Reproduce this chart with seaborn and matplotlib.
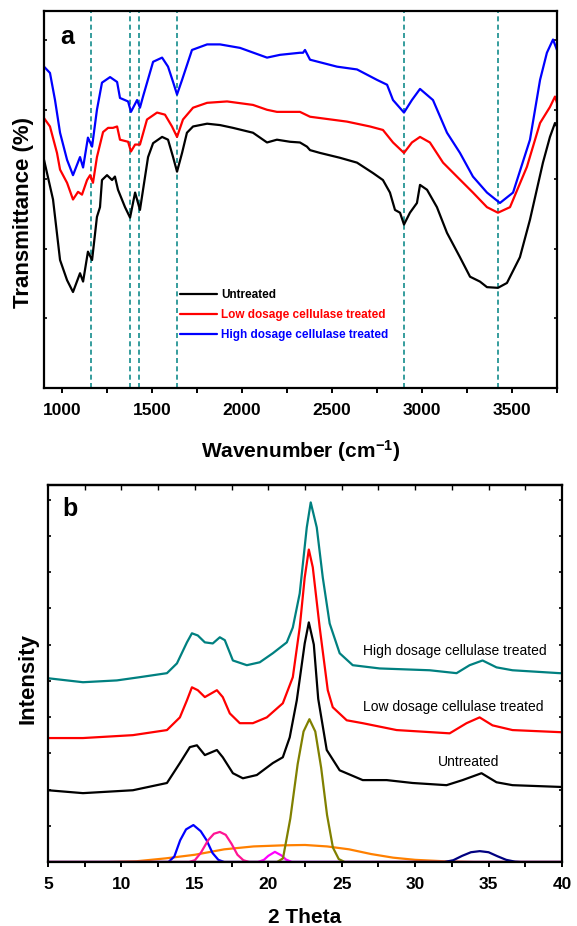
import numpy as np
import pandas as pd
import matplotlib
matplotlib.use("Agg")
import matplotlib.pyplot as plt
import seaborn as sns

# ---------------- FTIR (panel a) ----------------
ftir_untreated_x = [900, 950, 989, 1028, 1061, 1100, 1117, 1144, 1167, 1194, 1211, 1222, 1250, 1278, 1294,
                    1311, 1350, 1378, 1406, 1433, 1478, 1506, 1556, 1589, 1617, 1639, 1667, 1694, 1728,
                    1806, 1878, 1950, 2061, 2139, 2194, 2267, 2322, 2361, 2378, 2433, 2544, 2639, 2728,
                    2783, 2822, 2850, 2878, 2900, 2933, 2972, 2989, 3028, 3083, 3139, 3211, 3267, 3322,
                    3361, 3422, 3472, 3544, 3600, 3672, 3711, 3739, 3750]
ftir_untreated_y = [3.28, 2.71, 1.84, 1.55, 1.38, 1.65, 1.53, 1.96, 1.84, 2.46, 2.60, 2.99, 3.06, 2.99, 3.04,
                    2.85, 2.60, 2.45, 2.81, 2.56, 3.32, 3.52, 3.61, 3.57, 3.32, 3.11, 3.38, 3.67, 3.76,
                    3.80, 3.78, 3.74, 3.67, 3.53, 3.57, 3.54, 3.53, 3.47, 3.42, 3.38, 3.31, 3.24, 3.09,
                    2.99, 2.81, 2.56, 2.52, 2.35, 2.52, 2.66, 2.92, 2.85, 2.60, 2.23, 1.88, 1.60, 1.53,
                    1.45, 1.44, 1.51, 1.88, 2.42, 3.24, 3.61, 3.81, 3.76]

ftir_low_x = [900, 933, 972, 989, 1028, 1061, 1089, 1111, 1139, 1156, 1172, 1194, 1228, 1256, 1283, 1306,
              1322, 1367, 1383, 1406, 1433, 1472, 1528, 1572, 1611, 1639, 1672, 1728, 1806, 1917, 2061,
              2139, 2194, 2322, 2378, 2583, 2711, 2783, 2839, 2900, 2944, 2989, 3044, 3117, 3194, 3283,
              3361, 3422, 3489, 3583, 3656, 3711, 3739, 3750]
ftir_low_y = [3.88, 3.76, 3.38, 3.14, 2.95, 2.71, 2.82, 2.78, 2.99, 3.06, 2.95, 3.32, 3.68, 3.74, 3.74, 3.76,
              3.57, 3.54, 3.40, 3.50, 3.50, 3.86, 3.96, 3.93, 3.76, 3.61, 3.86, 4.03, 4.10, 4.12, 4.07,
              4.00, 3.97, 3.97, 3.90, 3.83, 3.76, 3.71, 3.53, 3.38, 3.53, 3.61, 3.53, 3.24, 3.04, 2.81,
              2.60, 2.52, 2.60, 3.18, 3.81, 4.04, 4.19, 4.10]

ftir_high_x = [900, 933, 961, 989, 1028, 1061, 1100, 1117, 1144, 1167, 1194, 1222, 1267, 1306, 1322, 1367,
               1383, 1417, 1433, 1450, 1506, 1556, 1589, 1617, 1639, 1667, 1722, 1806, 1878, 1989, 2139,
               2211, 2322, 2339, 2350, 2378, 2528, 2639, 2750, 2806, 2839, 2900, 2944, 2989, 3061, 3139,
               3211, 3283, 3361, 3433, 3506, 3600, 3656, 3694, 3728, 3750]
ftir_high_y = [4.62, 4.53, 4.14, 3.67, 3.28, 3.06, 3.32, 3.17, 3.60, 3.47, 4.00, 4.39, 4.47, 4.40, 4.17, 4.12,
               3.97, 4.14, 4.03, 4.19, 4.69, 4.75, 4.62, 4.40, 4.22, 4.43, 4.86, 4.94, 4.94, 4.89, 4.75,
               4.79, 4.82, 4.82, 4.86, 4.72, 4.62, 4.58, 4.43, 4.36, 4.14, 3.96, 4.14, 4.30, 4.14, 3.67,
               3.38, 3.04, 2.81, 2.66, 2.81, 3.57, 4.43, 4.82, 5.01, 4.86]

ftir_bands = [1160, 1375, 1430, 1640, 2900, 3420]

# ---------------- XRD (panel b) ----------------
xrd_high_x = [5, 7.38, 9.69, 11.26, 13.10, 13.78, 14.46, 14.80, 15.20, 15.68, 16.22, 16.70, 17.04, 17.59,
              18.54, 19.42, 20.31, 21.26, 21.67, 22.14, 22.62, 22.89, 23.30, 23.71, 24.18, 24.86, 25.75,
              27.59, 30.99, 32.82, 33.71, 34.59, 35.54, 36.63, 39.83, 40]
xrd_high_y = [5.07, 4.96, 5.01, 5.10, 5.21, 5.48, 6.06, 6.31, 6.25, 6.06, 6.03, 6.20, 6.12, 5.56,
              5.43, 5.51, 5.76, 6.06, 6.47, 7.41, 9.23, 9.92, 9.23, 7.85, 6.58, 5.76, 5.43,
              5.34, 5.29, 5.21, 5.43, 5.56, 5.37, 5.29, 5.21, 5.21]

xrd_low_x = [5, 7.38, 10.78, 13.10, 13.98, 14.46, 14.80, 15.20, 15.68, 16.50, 16.90, 17.38, 18.06, 18.95,
             19.90, 20.99, 21.67, 22.14, 22.48, 22.76, 23.03, 23.50, 24.05, 24.39, 25.34, 26.43, 28.74,
             32.35, 33.50, 34.39, 35.27, 36.63, 40]
xrd_low_y = [3.42, 3.42, 3.50, 3.64, 3.99, 4.46, 4.82, 4.74, 4.55, 4.74, 4.55, 4.10, 3.83, 3.83,
             3.99, 4.38, 5.10, 6.47, 7.85, 8.62, 8.13, 6.47, 4.74, 4.27, 3.91, 3.83, 3.64,
             3.55, 3.83, 3.99, 3.77, 3.64, 3.58]

xrd_untr_x = [5, 7.38, 10.78, 13.10, 13.98, 14.66, 15.14, 15.68, 16.50, 16.90, 17.59, 18.27, 19.22, 20.31,
              20.99, 21.46, 21.94, 22.48, 22.76, 23.10, 23.40, 23.98, 24.86, 26.43, 28.06, 29.83, 32.14,
              33.23, 34.52, 35.54, 36.63, 40]
xrd_untr_y = [1.98, 1.90, 1.98, 2.18, 2.73, 3.17, 3.22, 2.95, 3.09, 2.89, 2.45, 2.31, 2.40, 2.73,
              2.89, 3.44, 4.46, 6.03, 6.61, 6.00, 4.50, 3.09, 2.53, 2.26, 2.26, 2.18, 2.12,
              2.26, 2.45, 2.20, 2.12, 2.07]

# deconvoluted components
fit_blue_x = [5, 13.2, 13.6, 14.0, 14.4, 14.9, 15.4, 15.8, 16.2, 16.6, 17.0, 40]
fit_blue_y = [0, 0, 0.15, 0.6, 0.9, 1.02, 0.85, 0.6, 0.25, 0.06, 0, 0]
fit_pink_x = [5, 14.6, 15.0, 15.4, 15.9, 16.3, 16.7, 17.1, 17.5, 17.9, 18.3, 18.7, 40]
fit_pink_y = [0, 0, 0.05, 0.25, 0.6, 0.78, 0.83, 0.75, 0.5, 0.2, 0.05, 0, 0]
fit_mag_x = [5, 19.3, 19.7, 20.0, 20.45, 20.9, 21.2, 21.6, 40]
fit_mag_y = [0, 0, 0.06, 0.17, 0.28, 0.18, 0.07, 0, 0]
fit_olive_x = [5, 20.6, 21.0, 21.5, 22.0, 22.4, 22.8, 23.2, 23.6, 24.0, 24.4, 24.8, 25.2, 40]
fit_olive_y = [0, 0, 0.1, 1.2, 2.7, 3.6, 3.94, 3.6, 2.6, 1.3, 0.4, 0.08, 0, 0]
fit_orange_x = [5, 9, 11, 13, 15, 17, 19, 21, 22.5, 24, 25.5, 27, 28.5, 30, 32, 34, 40]
fit_orange_y = [0, 0, 0.02, 0.1, 0.2, 0.35, 0.43, 0.46, 0.47, 0.43, 0.35, 0.22, 0.12, 0.06, 0.02, 0, 0]
fit_navy_x = [5, 32.0, 32.6, 33.2, 33.8, 34.4, 35.0, 35.6, 36.2, 36.8, 37.2, 40]
fit_navy_y = [0, 0, 0.05, 0.17, 0.27, 0.30, 0.27, 0.16, 0.06, 0.01, 0, 0]

ftir_ticks = [1000, 1500, 2000, 2500, 3000, 3500]
xrd_ticks = [5, 10, 15, 20, 25, 30, 35, 40]

sns.set_theme(style="ticks")
plt.rcParams['font.family'] = ['Liberation Sans', 'DejaVu Sans']
plt.rcParams['mathtext.fontset'] = 'custom'
plt.rcParams['mathtext.rm'] = 'Liberation Sans:bold'
plt.rcParams['mathtext.default'] = 'rm'
plt.rcParams['axes.linewidth'] = 1.6
plt.rcParams['text.color'] = 'black'
plt.rcParams['axes.labelcolor'] = 'black'
plt.rcParams['xtick.color'] = 'black'
plt.rcParams['ytick.color'] = 'black'
plt.rcParams['axes.edgecolor'] = 'black'

fig = plt.figure(figsize=(5.77, 9.26), dpi=100)
ax1 = fig.add_axes([0.0763, 0.581, 0.889, 0.4071])
ax2 = fig.add_axes([0.0832, 0.0691, 0.8908, 0.4071])

lw = 1.6
# panel a
for xs, ys, col, lab in [(ftir_untreated_x, ftir_untreated_y, 'black', 'Untreated'),
                         (ftir_low_x, ftir_low_y, '#FF0000', 'Low dosage cellulase treated'),
                         (ftir_high_x, ftir_high_y, '#0000FF', 'High dosage cellulase treated')]:
    df = pd.DataFrame({'x': xs, 'y': ys})
    sns.lineplot(data=df, x='x', y='y', ax=ax1, color=col, lw=lw, sort=False, label=lab)
for b in ftir_bands:
    ax1.axvline(b, color='#138C8C', lw=1.2, ls=(0, (3, 2)), zorder=0)

ax1.set_xlim(900, 3750)
ax1.set_ylim(0, 5.42)
ax1.set_xticks(ftir_ticks)
ax1.set_xticklabels([str(t) for t in ftir_ticks], fontweight='bold', fontsize=12.5)
ax1.set_xticks([1250, 1750, 2250, 2750, 3250, 3750], minor=True)
ax1.set_yticks([1, 2, 3, 4, 5])
ax1.set_yticklabels([])
ax1.tick_params(axis='x', which='both', direction='out', length=3.5, width=1.4, pad=7.5)
ax1.tick_params(axis='y', which='both', direction='in', length=2.5, width=1.2, left=True, right=True)
ax1.set_xlabel('Wavenumber (cm$^{-1}$)', fontsize=15, fontweight='bold')
ax1.set_ylabel('Transmittance (%)', fontsize=16, fontweight='bold')
ax1.xaxis.set_label_coords(0.5, -0.133)
ax1.yaxis.set_label_coords(-0.02, 0.465)
ax1.text(0.045, 0.93, 'a', transform=ax1.transAxes, fontsize=18, fontweight='bold',
         ha='center', va='center')
leg = ax1.legend(loc='upper left', bbox_to_anchor=(0.265, 0.262), frameon=False,
                 prop={'size': 8.5, 'weight': 'bold'}, handlelength=3.1, handletextpad=0.4,
                 labelspacing=0.68, borderpad=0, borderaxespad=0)
for txt, line in zip(leg.get_texts(), leg.get_lines()):
    txt.set_color(line.get_color())
for s in ax1.spines.values():
    s.set_visible(True)
    s.set_color('black')

# panel b
for xs, ys, col in [(fit_orange_x, fit_orange_y, '#FF8000'),
                    (fit_blue_x, fit_blue_y, '#0000FF'),
                    (fit_pink_x, fit_pink_y, '#FF1493'),
                    (fit_mag_x, fit_mag_y, '#FF00FF'),
                    (fit_olive_x, fit_olive_y, '#808000'),
                    (fit_navy_x, fit_navy_y, '#000080'),
                    (xrd_untr_x, xrd_untr_y, 'black'),
                    (xrd_low_x, xrd_low_y, '#FF0000'),
                    (xrd_high_x, xrd_high_y, '#008080')]:
    df = pd.DataFrame({'x': xs, 'y': ys})
    sns.lineplot(data=df, x='x', y='y', ax=ax2, color=col, lw=lw, sort=False)

ax2.set_xlim(5, 40)
ax2.set_ylim(0, 10.4)
ax2.set_xticks(xrd_ticks)
ax2.set_xticklabels([str(t) for t in xrd_ticks], fontweight='bold', fontsize=12.5)
ax2.set_xticks([7.5, 12.5, 17.5, 22.5, 27.5, 32.5, 37.5], minor=True)
ax2.set_yticks([1, 2, 3, 4, 5, 6, 7, 8, 9, 10])
ax2.set_yticklabels([])
ax2.tick_params(axis='x', which='both', direction='out', length=3.5, width=1.4, pad=7.5)
ax2.tick_params(axis='y', which='both', direction='in', length=2.5, width=1.2, left=True, right=True)
sec = ax2.secondary_xaxis('top')
sec.set_xticks([7.5, 10, 12.5, 15, 17.5, 20, 22.5, 25, 27.5, 30, 32.5, 35, 37.5])
sec.tick_params(direction='in', length=3.5, width=1.0, labeltop=False)
ax2.set_xlabel('2 Theta', fontsize=15, fontweight='bold')
ax2.set_ylabel('Intensity', fontsize=16, fontweight='bold')
ax2.xaxis.set_label_coords(0.5, -0.122)
ax2.yaxis.set_label_coords(-0.018, 0.488)
ax2.text(0.043, 0.936, 'b', transform=ax2.transAxes, fontsize=18, fontweight='bold',
         ha='center', va='center')
ax2.text(26.43, 5.81, 'High dosage cellulase treated', fontsize=10, ha='left', va='center')
ax2.text(26.43, 4.27, 'Low dosage cellulase treated', fontsize=10, ha='left', va='center')
ax2.text(31.53, 2.75, 'Untreated', fontsize=10, ha='left', va='center')
for s in ax2.spines.values():
    s.set_visible(True)
    s.set_color('black')

fig.savefig('out.png', dpi=100)
